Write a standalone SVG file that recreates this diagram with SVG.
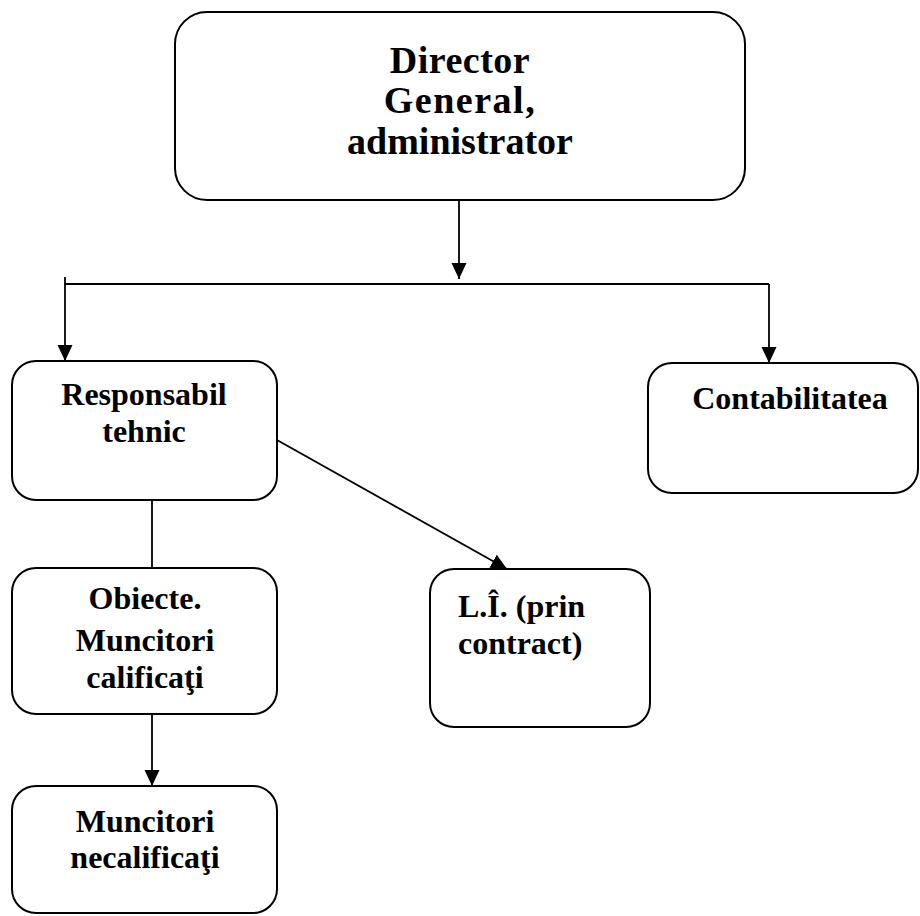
<svg xmlns="http://www.w3.org/2000/svg" width="920" height="916" viewBox="0 0 920 916">
<style>
.box{fill:#fff;stroke:#000;stroke-width:2}
.t{font-family:"Liberation Serif","Times New Roman",serif;font-weight:bold;fill:#000;text-anchor:middle}
.t32{font-size:32px}
.t39{font-size:38px}
.ln{stroke:#000;stroke-width:1.8;fill:none}
</style>
<defs>
<marker id="arr" markerUnits="userSpaceOnUse" markerWidth="16" markerHeight="16" viewBox="0 0 16 16" refX="16" refY="8" orient="auto">
<path d="M0,0.5 L16,8 L0,15.5 Z" fill="#000"/>
</marker>
</defs>
<g id="connectors">
<line class="ln" x1="459" y1="200" x2="459" y2="279" marker-end="url(#arr)"/>
<line class="ln" x1="65" y1="284" x2="769" y2="284"/>
<line class="ln" x1="65" y1="277" x2="65" y2="361" marker-end="url(#arr)"/>
<line class="ln" x1="769" y1="284" x2="769" y2="363" marker-end="url(#arr)"/>
<line class="ln" x1="152" y1="500" x2="152" y2="568"/>
<line class="ln" x1="152" y1="714" x2="152" y2="786" marker-end="url(#arr)"/>
<line class="ln" x1="277" y1="440" x2="507" y2="569" marker-end="url(#arr)"/>
</g>
<g id="director">
<rect class="box" x="175" y="12" width="570" height="188" rx="32"/>
<text class="t t39" x="460" y="73" letter-spacing="0.5">Director</text>
<text class="t t39" x="460" y="113" letter-spacing="1.5">General,</text>
<text class="t t39" x="460" y="154">administrator</text>
</g>
<g id="responsabil">
<rect class="box" x="12" y="361" width="265" height="139" rx="24"/>
<text class="t t32" x="144" y="405">Responsabil</text>
<text class="t t32" x="144" y="442">tehnic</text>
</g>
<g id="contabilitatea">
<rect class="box" x="648" y="363" width="270" height="130" rx="24"/>
<text class="t t32" x="790" y="409">Contabilitatea</text>
</g>
<g id="obiecte">
<rect class="box" x="12" y="568" width="265" height="146" rx="24"/>
<text class="t t32" x="145" y="609">Obiecte.</text>
<text class="t t32" x="145" y="651">Muncitori</text>
<text class="t t32" x="145" y="688">calificaţi</text>
</g>
<g id="li">
<rect class="box" x="430" y="569" width="220" height="158" rx="24"/>
<text class="t t32" x="458" y="617" style="text-anchor:start">L.Î. (prin</text>
<text class="t t32" x="458" y="654" style="text-anchor:start">contract)</text>
</g>
<g id="necalificati">
<rect class="box" x="12" y="786" width="265" height="127" rx="24"/>
<text class="t t32" x="145" y="832">Muncitori</text>
<text class="t t32" x="145" y="868">necalificaţi</text>
</g>
</svg>
